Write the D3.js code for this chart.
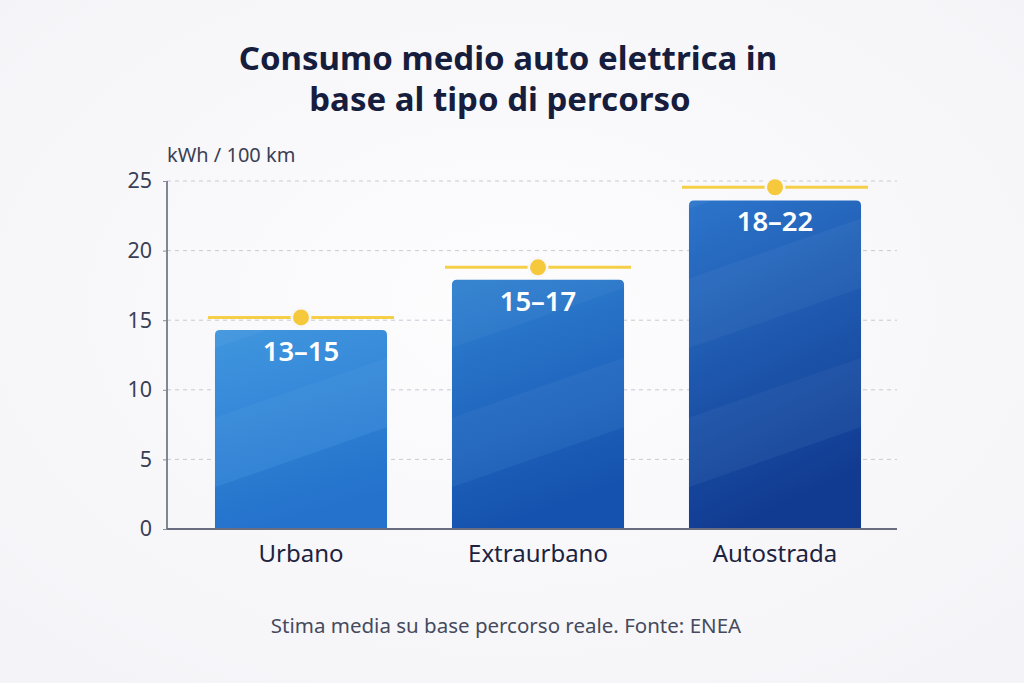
<!DOCTYPE html>
<html>
<head>
<meta charset="utf-8">
<script src="https://cdn.jsdelivr.net/npm/d3@7"></script>
<style>
  html, body { margin: 0; padding: 0; background: #f8f8fb; }
  svg { display: block; font-family: "Noto Sans", "Open Sans", sans-serif; }
</style>
</head>
<body>
<div id="chart"></div>
<script>
// Chart data
const categories = ['Urbano', 'Extraurbano', 'Autostrada'];
const barValues = [14.3, 17.9, 23.6];
const markerValues = [15.2, 18.8, 24.55];
const rangeLabels = ['13–15', '15–17', '18–22'];
const yTicks = [0, 5, 10, 15, 20, 25];
const titleLines = ['Consumo medio auto elettrica in', 'base al tipo di percorso'];
const unitLabel = 'kWh / 100 km';
const footnote = 'Stima media su base percorso reale. Fonte: ENEA';

// gradient stops per bar (top, bottom)
const barColors = [
  ['#4196de', '#2577d1'],
  ['#2f80d0', '#1655b3'],
  ['#2c75cb', '#113d93']
];

const width = 1024;
const height = 683;

const svg = d3.select('#chart').append('svg')
  .attr('width', width)
  .attr('height', height);

const defs = svg.append('defs');

// soft background
const bg = defs.append('radialGradient').attr('id', 'bg')
  .attr('cx', '50%').attr('cy', '45%').attr('r', '70%');
bg.append('stop').attr('offset', '0%').attr('stop-color', '#fdfdfe');
bg.append('stop').attr('offset', '100%').attr('stop-color', '#f4f4f8');
svg.append('rect').attr('width', width).attr('height', height).attr('fill', 'url(#bg)');

const x = d3.scaleBand()
  .domain(categories)
  .range([182.5, 893.5])
  .paddingInner(0.274)
  .paddingOuter(0.137);

const y = d3.scaleLinear()
  .domain([0, 25])
  .range([529, 181]);

const axisLeft = 167;
const axisRight = 897;

// Title (second line sits a touch left of the first, as in the original)
const titleX = [508, 500];
svg.append('g')
  .selectAll('text')
  .data(titleLines)
  .join('text')
  .attr('x', (d, i) => titleX[i])
  .attr('y', (d, i) => 70 + i * 41)
  .attr('text-anchor', 'middle')
  .attr('font-size', 33)
  .attr('font-weight', 700)
  .attr('fill', '#161d3d')
  .text(d => d);

// Unit label
svg.append('text')
  .attr('x', 167)
  .attr('y', 162)
  .attr('font-size', 20)
  .attr('fill', '#3b4055')
  .text(unitLabel);

// Gridlines
svg.append('g')
  .selectAll('line')
  .data(yTicks.filter(d => d > 0))
  .join('line')
  .attr('x1', axisLeft)
  .attr('x2', axisRight)
  .attr('y1', d => y(d))
  .attr('y2', d => y(d))
  .attr('stroke', '#c9cad3')
  .attr('stroke-width', 1)
  .attr('stroke-dasharray', '4,4');

// Y axis
const yAxis = svg.append('g')
  .attr('transform', `translate(${axisLeft},0)`)
  .call(d3.axisLeft(y).tickValues(yTicks).tickSize(4).tickPadding(11));
yAxis.select('.domain').attr('stroke', '#5b5f72').attr('stroke-width', 1.5)
  .attr('d', `M0,${y(25)}V${y(0)}`);
yAxis.selectAll('.tick line').attr('stroke', '#8a8d9c');
yAxis.selectAll('.tick text')
  .attr('font-size', 21.5)
  .attr('fill', '#3a3f55')
  .attr('font-family', '"Noto Sans", sans-serif');

// Bars
barColors.forEach((c, i) => {
  const grad = defs.append('linearGradient')
    .attr('id', 'bar' + i)
    .attr('x1', '0').attr('y1', '0').attr('x2', '0.25').attr('y2', '1');
  grad.append('stop').attr('offset', '0%').attr('stop-color', c[0]);
  grad.append('stop').attr('offset', '100%').attr('stop-color', c[1]);
});

function barPath(x0, y0, w, h, r) {
  return `M${x0},${y0 + h}V${y0 + r}Q${x0},${y0} ${x0 + r},${y0}` +
    `H${x0 + w - r}Q${x0 + w},${y0} ${x0 + w},${y0 + r}V${y0 + h}Z`;
}

const bars = svg.append('g')
  .selectAll('g')
  .data(categories)
  .join('g');

bars.append('clipPath')
  .attr('id', (d, i) => 'clip' + i)
  .append('path')
  .attr('d', (d, i) => barPath(x(d), y(barValues[i]), x.bandwidth(), y(0) - y(barValues[i]), 5));

bars.append('path')
  .attr('d', (d, i) => barPath(x(d), y(barValues[i]), x.bandwidth(), y(0) - y(barValues[i]), 5))
  .attr('fill', (d, i) => `url(#bar${i})`);

// diagonal light bands across the bars
const bandStarts = [3, 8, 13, 18, 23];
bars.each(function(d, i) {
  const g = d3.select(this).append('g').attr('clip-path', `url(#clip${i})`);
  const x0 = x(d);
  const w = x.bandwidth();
  const rise = 60;
  bandStarts.forEach((v, k) => {
    const yb = y(v);
    const ya = y(v + 5);
    g.append('path')
      .attr('d', `M${x0},${yb}L${x0 + w},${yb - rise}L${x0 + w},${ya - rise}L${x0},${ya}Z`)
      .attr('fill', '#ffffff')
      .attr('opacity', k % 2 === 0 ? 0.04 : 0.0);
  });
  g.append('path')
    .attr('d', `M${x0},${y(0)}L${x0 + w},${y(0)}L${x0 + w},${y(3) - rise}L${x0},${y(3)}Z`)
    .attr('fill', '#0a2a70')
    .attr('opacity', 0.05);
});

// Bar range labels
bars.append('text')
  .attr('x', d => x(d) + x.bandwidth() / 2)
  .attr('y', (d, i) => y(barValues[i]) + 31)
  .attr('text-anchor', 'middle')
  .attr('font-size', 27.5)
  .attr('font-weight', 600)
  .attr('fill', '#ffffff')
  .text((d, i) => rangeLabels[i]);

// Yellow markers
const markers = svg.append('g')
  .selectAll('g')
  .data(categories)
  .join('g');

markers.append('line')
  .attr('x1', d => x(d) - 7)
  .attr('x2', d => x(d) + x.bandwidth() + 7)
  .attr('y1', (d, i) => y(markerValues[i]))
  .attr('y2', (d, i) => y(markerValues[i]))
  .attr('stroke', '#f5cf47')
  .attr('stroke-width', 3);

markers.append('circle')
  .attr('cx', d => x(d) + x.bandwidth() / 2)
  .attr('cy', (d, i) => y(markerValues[i]))
  .attr('r', 10.5)
  .attr('fill', '#f8f8fb');

markers.append('circle')
  .attr('cx', d => x(d) + x.bandwidth() / 2)
  .attr('cy', (d, i) => y(markerValues[i]))
  .attr('r', 8)
  .attr('fill', '#f6c93c');

// X axis
svg.append('line')
  .attr('x1', axisLeft)
  .attr('x2', axisRight)
  .attr('y1', y(0))
  .attr('y2', y(0))
  .attr('stroke', '#6a6d80')
  .attr('stroke-width', 2);

svg.append('g')
  .selectAll('text')
  .data(categories)
  .join('text')
  .attr('x', d => x(d) + x.bandwidth() / 2)
  .attr('y', 562)
  .attr('text-anchor', 'middle')
  .attr('font-size', 24)
  .attr('fill', '#1c2341')
  .text(d => d);

// Footnote
svg.append('text')
  .attr('x', 506)
  .attr('y', 633)
  .attr('text-anchor', 'middle')
  .attr('font-size', 20.5)
  .attr('fill', '#464a5c')
  .text(footnote);
</script>
</body>
</html>
